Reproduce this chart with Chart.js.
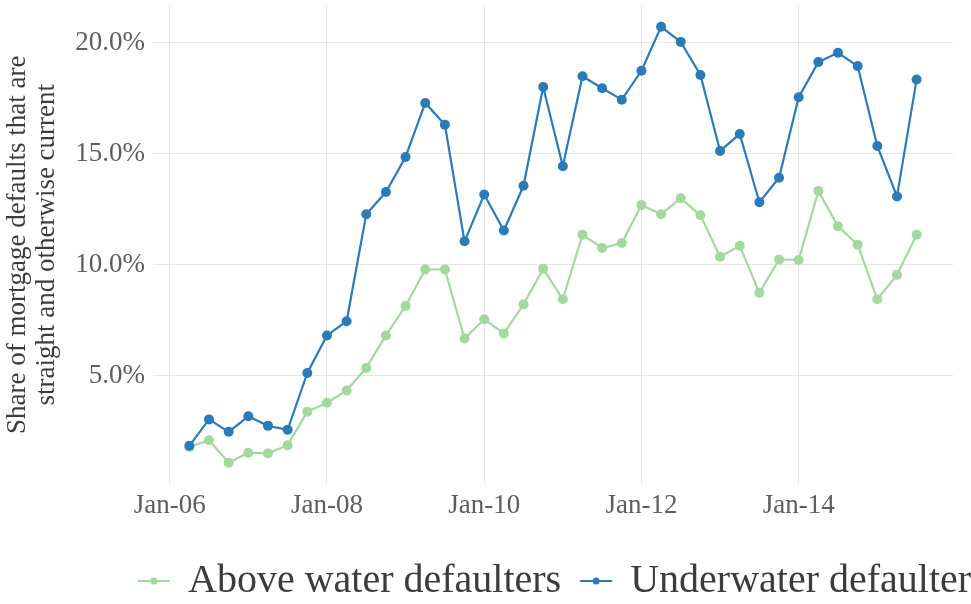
<!DOCTYPE html>
<html>
<head>
<meta charset="utf-8">
<title>Straight defaulters by equity position</title>
<script src="https://cdn.jsdelivr.net/npm/chart.js@4.4.1/dist/chart.umd.min.js"></script>
<style>
  html, body { margin: 0; padding: 0; background: #ffffff; overflow: hidden; }
  #wrap { width: 971px; height: 604px; }
</style>
</head>
<body>
<div id="wrap"><canvas id="chart" width="971" height="604"></canvas></div>
<script>
// Quarterly observations (year-month)
const quarters = [
  '2006-04','2006-07','2006-10',
  '2007-01','2007-04','2007-07','2007-10',
  '2008-01','2008-04','2008-07','2008-10',
  '2009-01','2009-04','2009-07','2009-10',
  '2010-01','2010-04','2010-07','2010-10',
  '2011-01','2011-04','2011-07','2011-10',
  '2012-01','2012-04','2012-07','2012-10',
  '2013-01','2013-04','2013-07','2013-10',
  '2014-01','2014-04','2014-07','2014-10',
  '2015-01','2015-04','2015-07'
];

// Share of defaults that are straight and otherwise current (%)
const aboveWater = [
  1.80, 2.10, 1.09,
  1.54, 1.51, 1.88, 3.39,
  3.79, 4.34, 5.36, 6.82,
  8.15, 9.79, 9.79, 6.68,
  7.55, 6.91, 8.22, 9.82,
  8.45, 11.36, 10.76, 10.98,
  12.70, 12.28, 13.00, 12.23,
  10.37, 10.86, 8.74, 10.24,
  10.22, 13.33, 11.74, 10.91,
  8.45, 9.55, 11.36
];
const underwater = [
  1.85, 3.04, 2.48,
  3.18, 2.75, 2.57, 5.13,
  6.82, 7.46, 12.28, 13.28,
  14.86, 17.29, 16.31, 11.06,
  13.17, 11.55, 13.56, 18.01,
  14.44, 18.49, 17.95, 17.44,
  18.74, 20.72, 20.04, 18.55,
  15.13, 15.89, 12.82, 13.92,
  17.55, 19.13, 19.55, 18.95,
  15.35, 13.08, 18.35
];

// Axis ticks
const xTickMonths = [0, 24, 48, 72, 96];
const xTickLabels = ['Jan-06', 'Jan-08', 'Jan-10', 'Jan-12', 'Jan-14'];
const yTickValues = [5, 10, 15, 20];

const seriesNames = ['Above water defaulters', 'Underwater defaulters'];
const seriesColors = ['#a3d99e', '#2b7bb9'];
const yTitle = ['Share of mortgage defaults that are', 'straight and otherwise current'];

// months elapsed since January 2006
function monthIndex(s) {
  const [y, m] = s.split('-').map(Number);
  return (y - 2006) * 12 + (m - 1);
}
const xs = quarters.map(monthIndex);
const toPoints = vals => vals.map((v, i) => ({ x: xs[i], y: v }));

// ggplot-style 5% expansion around the data
function expanded(lo, hi) {
  const pad = (hi - lo) * 0.05;
  return [lo - pad, hi + pad];
}
const [xMin, xMax] = expanded(Math.min(...xs), Math.max(...xs));
const allVals = aboveWater.concat(underwater);
const [yMin, yMax] = expanded(Math.min(...allVals), Math.max(...allVals));

const SERIF = "'Liberation Serif', 'DejaVu Serif', serif";

// Horizontal legend drawn under the plot, allowed to run past the canvas edge
const bottomLegend = {
  id: 'bottomLegend',
  afterDraw(chart) {
    const ctx = chart.ctx;
    const area = chart.chartArea;
    ctx.save();
    ctx.font = '40px ' + SERIF;
    ctx.textBaseline = 'middle';
    ctx.textAlign = 'left';
    const y = 581;
    let x = area.left - 15;
    seriesNames.forEach((name, i) => {
      const c = seriesColors[i];
      ctx.strokeStyle = c;
      ctx.lineWidth = 2;
      ctx.beginPath();
      ctx.moveTo(x, y);
      ctx.lineTo(x + 32, y);
      ctx.stroke();
      ctx.fillStyle = c;
      ctx.beginPath();
      ctx.arc(x + 16, y, 3.5, 0, Math.PI * 2);
      ctx.fill();
      ctx.fillStyle = '#3c3c3c';
      ctx.fillText(name, x + 50, y);
      x += 50 + ctx.measureText(name).width + 19;
    });
    ctx.restore();
  }
};

// keep the plot panel flush with the layout padding
function noEdgePadding(scale) {
  scale.paddingTop = 0;
  scale.paddingBottom = 0;
  scale.paddingLeft = 0;
  scale.paddingRight = 0;
}

new Chart(document.getElementById('chart'), {
  type: 'line',
  data: {
    datasets: [
      {
        label: seriesNames[0],
        data: toPoints(aboveWater),
        borderColor: seriesColors[0],
        backgroundColor: seriesColors[0],
        borderWidth: 2.2,
        pointRadius: 5,
        pointBorderWidth: 0,
        pointBackgroundColor: seriesColors[0],
        tension: 0,
        order: 1
      },
      {
        label: seriesNames[1],
        data: toPoints(underwater),
        borderColor: seriesColors[1],
        backgroundColor: seriesColors[1],
        borderWidth: 2.2,
        pointRadius: 5,
        pointBorderWidth: 0,
        pointBackgroundColor: seriesColors[1],
        tension: 0,
        order: 0
      }
    ]
  },
  options: {
    responsive: false,
    animation: false,
    layout: { padding: { left: 0, right: 18, top: 2, bottom: 79.5 } },
    plugins: {
      legend: { display: false },
      tooltip: { enabled: false }
    },
    scales: {
      x: {
        type: 'linear',
        min: xMin,
        max: xMax,
        border: { display: false },
        grid: { color: '#e6e6e6', lineWidth: 1, drawTicks: false },
        afterBuildTicks(scale) {
          scale.ticks = xTickMonths.map(v => ({ value: v }));
        },
        afterFit(scale) { scale.height = 40; noEdgePadding(scale); },
        ticks: {
          padding: 5,
          maxRotation: 0,
          autoSkip: false,
          color: '#5e5e5e',
          font: { family: SERIF, size: 27 },
          callback: v => xTickLabels[xTickMonths.indexOf(v)]
        }
      },
      y: {
        type: 'linear',
        min: yMin,
        max: yMax,
        border: { display: false },
        grid: { color: '#e6e6e6', lineWidth: 1, drawTicks: false },
        afterBuildTicks(scale) {
          scale.ticks = yTickValues.map(v => ({ value: v }));
        },
        afterFit(scale) { scale.width = 153; noEdgePadding(scale); },
        ticks: {
          padding: 8,
          color: '#5e5e5e',
          font: { family: SERIF, size: 27 },
          callback: v => v.toFixed(1) + '%'
        },
        title: {
          display: true,
          text: yTitle,
          color: '#3c3c3c',
          font: { family: SERIF, size: 27, lineHeight: 1.05 },
          padding: { top: 4, bottom: 0 }
        }
      }
    }
  },
  plugins: [bottomLegend]
});
</script>
</body>
</html>
